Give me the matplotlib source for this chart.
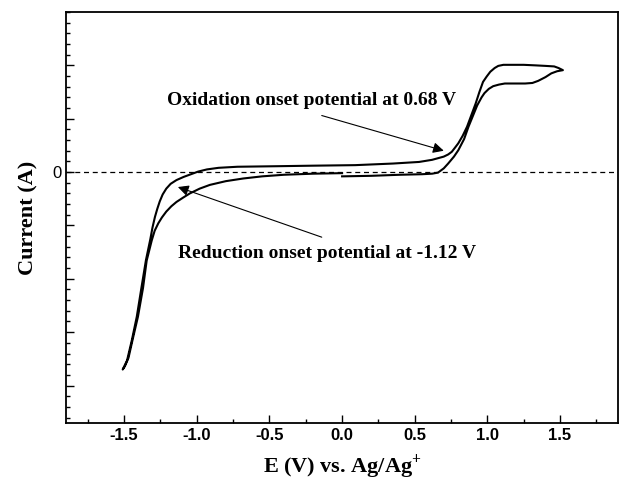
import matplotlib
matplotlib.use('Agg')
import matplotlib.pyplot as plt
from matplotlib.ticker import MultipleLocator
import numpy as np

# cyclic voltammogram (current in arbitrary units)
E_scan = [0.00, 0.20, 0.40, 0.55, 0.62, 0.66, 0.70, 0.73, 0.77, 0.80, 0.84,
          0.87, 0.90, 0.93, 0.96, 0.98, 1.01, 1.04, 1.08, 1.12, 1.19, 1.26,
          1.31, 1.35, 1.40, 1.44, 1.48, 1.52,
          1.49, 1.46, 1.40, 1.33, 1.25, 1.17, 1.11, 1.075, 1.05, 1.02, 0.995,
          0.97, 0.945, 0.92, 0.89, 0.86, 0.83, 0.80, 0.775, 0.755, 0.73, 0.70,
          0.66, 0.62, 0.53, 0.35, 0.09,
          -0.20, -0.45, -0.72, -0.85, -0.93, -0.99, -1.04, -1.09, -1.14,
          -1.18, -1.21, -1.235, -1.255, -1.272, -1.288, -1.305, -1.32, -1.35,
          -1.38, -1.413, -1.447, -1.48, -1.51,
          -1.495, -1.47, -1.44, -1.405, -1.37, -1.345, -1.31, -1.29, -1.265,
          -1.24, -1.21, -1.175, -1.14, -1.095, -1.048, -0.98, -0.91, -0.80,
          -0.68, -0.55, -0.40, -0.20, 0.00]
I_scan = [-0.08, -0.07, -0.05, -0.04, -0.03, -0.01, 0.07, 0.16, 0.29, 0.41,
          0.62, 0.85, 1.05, 1.25, 1.40, 1.48, 1.56, 1.61, 1.64, 1.66, 1.66,
          1.66, 1.67, 1.71, 1.78, 1.85, 1.89, 1.91,
          1.95, 1.98, 1.99, 2.00, 2.01, 2.01, 2.01, 1.99, 1.95, 1.88, 1.79,
          1.69, 1.50, 1.29, 1.07, 0.85, 0.68, 0.54, 0.45, 0.38, 0.33, 0.29,
          0.26, 0.23, 0.19, 0.16, 0.13,
          0.12, 0.11, 0.10, 0.08, 0.05, 0.01, -0.04, -0.09, -0.15,
          -0.22, -0.31, -0.42, -0.55, -0.69, -0.84, -1.04, -1.26, -1.65,
          -2.15, -2.71, -3.15, -3.53, -3.70,
          -3.64, -3.48, -3.12, -2.71, -2.17, -1.66, -1.28, -1.10, -0.96,
          -0.85, -0.74, -0.64, -0.56, -0.48, -0.40, -0.31, -0.24, -0.17,
          -0.12, -0.08, -0.05, -0.03, -0.02]

ox_text = 'Oxidation onset potential at 0.68 V'
red_text = 'Reduction onset potential at -1.12 V'

plt.rcParams['mathtext.fontset'] = 'custom'
plt.rcParams['mathtext.rm'] = 'Liberation Serif:bold'

fig = plt.figure(figsize=(6.2, 4.8), dpi=100)
ax = fig.add_axes([0.1065, 0.119, 0.8905, 0.856])

ax.plot(E_scan, I_scan, color='black', lw=1.5, solid_joinstyle='round')
ax.axhline(0, color='black', lw=0.9, ls=(0, (4, 3)))

ax.set_xlim(-1.9, 1.9)
ax.set_ylim(-4.7, 3.0)

ax.xaxis.set_minor_locator(MultipleLocator(0.25))
ax.yaxis.set_minor_locator(MultipleLocator(0.2))
ax.tick_params(which='both', direction='in', top=False, right=False, width=1.0)
ax.tick_params(which='major', length=6)
ax.tick_params(which='minor', length=3)

ax.set_xticks([-1.5, -1.0, -0.5, 0.0, 0.5, 1.0, 1.5])
ax.set_xticklabels(['-1.5', '-1.0', '-0.5', '0.0', '0.5', '1.0', '1.5'],
                   family='Liberation Sans', weight='bold', fontsize=12)
yt = np.arange(-4, 3)
ax.set_yticks(yt)
ax.set_yticklabels(['0' if v == 0 else '' for v in yt],
                   family='Liberation Sans', fontsize=12)

for s in ax.spines.values():
    s.set_linewidth(1.3)

ax.set_xlabel('E (V) vs. Ag/Ag$^{+}$', family='Liberation Serif', weight='bold',
              fontsize=16, labelpad=7)
ax.set_ylabel('Current (A)', family='Liberation Serif', weight='bold',
              fontsize=16, labelpad=10)

arrow = dict(arrowstyle='-|>', color='black', lw=0.8, mutation_scale=16,
             shrinkA=0, shrinkB=0)
ax.annotate('', xy=(0.70, 0.40), xytext=(-0.14, 1.06), arrowprops=arrow)
ax.annotate('', xy=(-1.13, -0.28), xytext=(-0.14, -1.22), arrowprops=arrow)
ax.text(-0.21, 1.35, ox_text, ha='center', va='center', family='Liberation Serif',
        weight='bold', fontsize=14)
ax.text(-0.10, -1.52, red_text, ha='center', va='center', family='Liberation Serif',
        weight='bold', fontsize=14)

fig.savefig('out.png', dpi=100)
